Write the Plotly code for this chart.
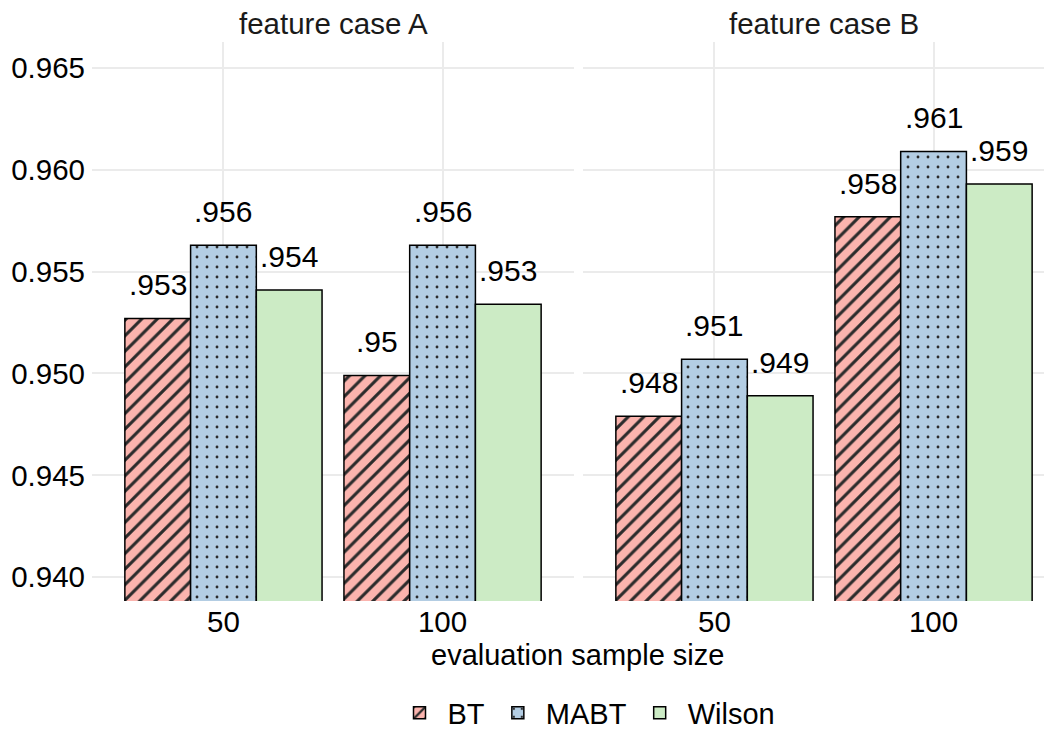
import plotly.graph_objects as go

# ---- data ----
cases = ["feature case A", "feature case B"]
sample_sizes = ["50", "100"]
methods = ["BT", "MABT", "Wilson"]
values_A = {"BT": [0.9527, 0.9499], "MABT": [0.9563, 0.9563], "Wilson": [0.9541, 0.9534]}
values_B = {"BT": [0.9479, 0.9577], "MABT": [0.9507, 0.9609], "Wilson": [0.9489, 0.9593]}
y_ticks = [0.940, 0.945, 0.950, 0.955, 0.960, 0.965]

# ---- style ----
FONT = "Liberation Sans, Arial, Helvetica, sans-serif"
fills = {"BT": "#FBB4AE", "MABT": "#B3CDE3", "Wilson": "#CCEBC5"}
patterns = {
    "BT": dict(shape="/", fgcolor="#2b2b2b", bgcolor="#FBB4AE", size=11, solidity=0.28, fillmode="replace"),
    "MABT": dict(shape=".", fgcolor="#2b2b2b", bgcolor="#B3CDE3", size=10, solidity=0.065, fillmode="replace"),
    "Wilson": dict(shape="", fgcolor="#2b2b2b", bgcolor="#CCEBC5", fillmode="replace"),
}

def lab(v):
    s = f"{round(v, 3):g}"
    return s[1:] if s.startswith("0") else s

# page body has an 8px margin; work in figure coordinates
OFF = 8
W, H = 1052 - OFF, 732 - OFF
def fx(px):  # reference pixel x -> figure pixel x
    return px - OFF
def fy(py):
    return py - OFF

ML = fx(92)
MT = fy(42)
MB = H - fy(601)
MR = 0
PW = W - ML - MR
PH = H - MT - MB
px_unit = (574 - 92) / 2.2

fig = go.Figure()
offsets = {"BT": -0.3, "MABT": 0.0, "Wilson": 0.3}
for ci, (case, vals) in enumerate(zip(cases, [values_A, values_B])):
    xa = "x" if ci == 0 else "x2"
    ya = "y" if ci == 0 else "y2"
    for m in methods:
        fig.add_trace(go.Bar(
            x=sample_sizes, y=vals[m], name=m, xaxis=xa, yaxis=ya,
            marker=dict(color=fills[m], pattern=patterns[m], line=dict(color="#000000", width=1.5)),
            showlegend=(ci == 0), legendgroup=m,
        ))
        for k, v in enumerate(vals[m]):
            fig.add_annotation(
                x=k + offsets[m], y=v, xref=xa, yref=ya, text=lab(v),
                showarrow=False, yanchor="bottom", xanchor="center", yshift=15,
                font=dict(family=FONT, size=30, color="#000000"),
            )

dA = [0, (fx(574) - ML) / PW]
dB = [(fx(583) - ML) / PW, 1.0]
rangeB = [-0.6, -0.6 + (W - fx(583)) / px_unit]

axis_common = dict(showgrid=True, gridcolor="#EBEBEB", gridwidth=1.6, zeroline=False,
                   showline=False, ticks="", automargin=False,
                   tickfont=dict(family=FONT, size=29.5, color="#000000"))
ymin = 0.940 - (601 - 577) / 20360
ymax = 0.965 + (68 - 42) / 20360

fig.update_layout(
    width=W, height=H,
    margin=dict(l=ML, r=MR, t=MT, b=MB, pad=0, autoexpand=False),
    paper_bgcolor="white", plot_bgcolor="white",
    barmode="group", bargap=0.1, bargroupgap=0,
    font=dict(family=FONT, size=29, color="#000000"),
    xaxis=dict(domain=dA, range=[-0.6, 1.6], type="category", anchor="y", **axis_common),
    xaxis2=dict(domain=dB, range=rangeB, type="category", anchor="y2", **axis_common),
    yaxis=dict(domain=[0, 1], range=[ymin, ymax], tickvals=y_ticks, tickformat=".3f",
               ticklabelstandoff=6, anchor="x", **axis_common),
    yaxis2=dict(domain=[0, 1], range=[ymin, ymax], tickvals=y_ticks, showticklabels=False,
                anchor="x2", **axis_common),
    legend=dict(orientation="h", x=(fx(586) - ML) / PW, xanchor="center",
                y=-(fy(713) - MT - PH) / PH, yanchor="middle",
                font=dict(family=FONT, size=29, color="#000000"), itemwidth=46,
                bgcolor="rgba(0,0,0,0)"),
    showlegend=True,
)
fig.update_xaxes(ticklabelstandoff=0)

# facet titles
for case, cx in zip(cases, [(92 + 574) / 2, (583 + 583 + 2.2 * px_unit) / 2]):
    fig.add_annotation(x=(fx(cx) - ML) / PW, y=1, xref="paper", yref="paper", yanchor="bottom",
                       xanchor="center", yshift=0, text=case, showarrow=False,
                       font=dict(family=FONT, size=29.5, color="#1A1A1A"))
# x axis title
fig.add_annotation(x=(fx(577) - ML) / PW, y=-(fy(655) - MT - PH) / PH, xref="paper", yref="paper",
                   text="evaluation sample size", showarrow=False, yanchor="middle",
                   xanchor="center", font=dict(family=FONT, size=29, color="#000000"))

fig.write_html("out.html")
